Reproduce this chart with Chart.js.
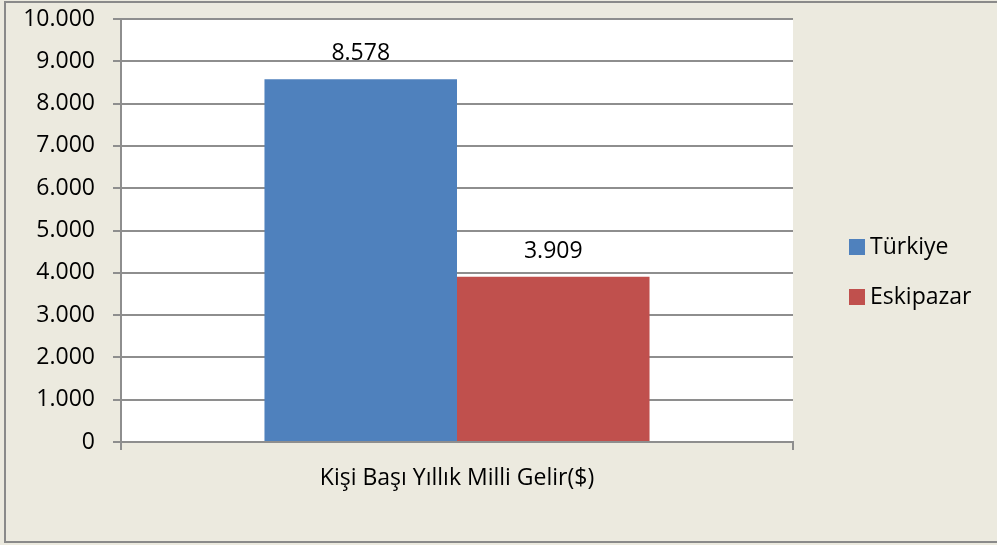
<!DOCTYPE html>
<html>
<head>
<meta charset="utf-8">
<script src="https://cdn.jsdelivr.net/npm/chart.js@4"></script>
<style>
  html, body { margin: 0; padding: 0; background: #ECEADF; }
  #wrap { position: relative; width: 997px; height: 545px; }
</style>
</head>
<body>
<div id="wrap"><canvas id="c" width="997" height="545"></canvas></div>
<script>
// ─── DATA ─────────────────────────────────────────────
const categories = ['Kişi Başı Yıllık Milli Gelir($)'];
const seriesNames = ['Türkiye', 'Eskipazar'];
const turkiye = [8578];
const eskipazar = [3909];
const yMax = 10000;
const yStep = 1000;

const COLORS = ['#4F81BD', '#C0504D'];
const FONT = '"Open Sans", sans-serif';
const FSIZE = 23;
const GRID = '#8E8E8E';

// 8578 -> "8.578"
function fmt(v) {
  return String(Math.round(v)).replace(/\B(?=(\d{3})+(?!\d))/g, '.');
}

// ─── PLUGINS ──────────────────────────────────────────
const frame = {
  id: 'frame',
  beforeDraw(chart) {
    const { ctx, chartArea: a } = chart;
    ctx.save();
    ctx.fillStyle = '#ECEADF';
    ctx.fillRect(0, 0, chart.width, chart.height);
    ctx.fillStyle = '#FFFFFF';
    ctx.fillRect(a.left, a.top, a.right - a.left, a.bottom - a.top);
    ctx.strokeStyle = '#8A8A8A';
    ctx.lineWidth = 2;
    ctx.strokeRect(5, 2, chart.width + 10, 540);
    ctx.restore();
  }
};

const valueLabels = {
  id: 'valueLabels',
  afterDatasetsDraw(chart) {
    const { ctx } = chart;
    ctx.save();
    ctx.font = FSIZE + 'px ' + FONT;
    ctx.fillStyle = '#000';
    ctx.textAlign = 'center';
    ctx.textBaseline = 'alphabetic';
    chart.data.datasets.forEach((ds, i) => {
      chart.getDatasetMeta(i).data.forEach((bar, j) => {
        ctx.fillText(fmt(ds.data[j]), bar.x, bar.y - 19);
      });
    });
    ctx.restore();
  }
};

const sideLegend = {
  id: 'sideLegend',
  afterDraw(chart) {
    const { ctx } = chart;
    ctx.save();
    ctx.font = FSIZE + 'px ' + FONT;
    ctx.textBaseline = 'middle';
    chart.data.datasets.forEach((ds, i) => {
      const y = 247 + i * 50;
      ctx.fillStyle = ds.backgroundColor;
      ctx.fillRect(849, y - 8, 16, 16);
      ctx.fillStyle = '#000';
      ctx.fillText(ds.label, 870, y);
    });
    ctx.restore();
  }
};

// ─── CHART ────────────────────────────────────────────
new Chart(document.getElementById('c'), {
  type: 'bar',
  data: {
    labels: categories,
    datasets: [
      { label: seriesNames[0], data: turkiye, backgroundColor: COLORS[0] },
      { label: seriesNames[1], data: eskipazar, backgroundColor: COLORS[1] }
    ]
  },
  options: {
    responsive: false,
    animation: false,
    layout: { padding: { left: 6, right: 204, top: 19, bottom: 0 } },
    datasets: { bar: { categoryPercentage: 0.573, barPercentage: 1.0 } },
    plugins: { legend: { display: false }, tooltip: { enabled: false } },
    scales: {
      x: {
        grid: { drawOnChartArea: false, drawTicks: true, tickLength: 8, color: GRID, lineWidth: 2 },
        border: { color: GRID, width: 2 },
        ticks: { color: '#000', font: { family: FONT, size: FSIZE }, padding: 15 },
        afterFit(s) { s.height = 103; s.paddingLeft = 0; s.paddingRight = 0; }
      },
      y: {
        min: 0, max: yMax,
        grid: { color: GRID, lineWidth: 2, tickLength: 8 },
        border: { color: GRID, width: 2 },
        ticks: { stepSize: yStep, color: '#000', font: { family: FONT, size: FSIZE }, padding: 18, callback: v => fmt(v) },
        afterFit(s) { s.width = 115; s.paddingTop = 0; s.paddingBottom = 0; }
      }
    }
  },
  plugins: [frame, valueLabels, sideLegend]
});
</script>
</body>
</html>
